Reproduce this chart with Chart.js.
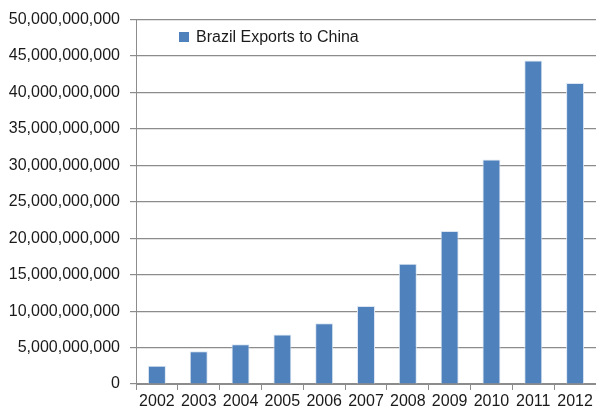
<!DOCTYPE html>
<html>
<head>
<meta charset="utf-8">
<script src="https://cdn.jsdelivr.net/npm/chart.js@4/dist/chart.umd.min.js"></script>
<style>
  html, body { margin: 0; padding: 0; background: #fff; }
  #wrap { width: 596px; height: 410px; }
</style>
</head>
<body>
<div id="wrap"><canvas id="chart" width="596" height="410"></canvas></div>
<script>
const YEARS = ["2002", "2003", "2004", "2005", "2006", "2007", "2008", "2009", "2010", "2011", "2012"];

const EXPORTS = [
  2.5e9, 4.5e9, 5.45e9, 6.8e9, 8.35e9, 10.7e9,
  16.5e9, 21.0e9, 30.8e9, 44.4e9, 41.3e9
];

const SERIES_LABEL = "Brazil Exports to China";

const FONT = "'Liberation Sans', Arial, sans-serif";

// legend drawn inside the plot, top-left
const insideLegend = {
  id: "insideLegend",
  afterDraw(c) {
    const ctx = c.ctx;
    const ds = c.data.datasets[0];
    ctx.save();
    ctx.fillStyle = ds.backgroundColor;
    ctx.fillRect(179, 32, 10, 10);
    ctx.fillStyle = "#1a1a1a";
    ctx.font = "16px " + FONT;
    ctx.textBaseline = "middle";
    ctx.fillText(ds.label, 196, 37.5);
    ctx.restore();
  }
};

new Chart(document.getElementById("chart"), {
  type: "bar",
  data: {
    labels: YEARS,
    datasets: [{
      label: SERIES_LABEL,
      data: EXPORTS,
      backgroundColor: "#4F81BD",
      borderColor: "#dce6f2",
      borderWidth: 1,
      barPercentage: 0.43,
      categoryPercentage: 1
    }]
  },
  options: {
    responsive: false,
    animation: false,
    layout: { padding: { top: 17, right: 0, left: 0, bottom: 0 } },
    plugins: {
      legend: { display: false },
      tooltip: { enabled: false }
    },
    scales: {
      x: {
        grid: {
          drawOnChartArea: false,
          drawTicks: true,
          tickLength: 6,
          color: "#8c8c8c"
        },
        border: { color: "#8c8c8c", width: 1 },
        ticks: {
          color: "#1a1a1a",
          font: { family: FONT, size: 16 },
          padding: 2,
          maxRotation: 0
        },
        afterFit(s) { s.height = 26; }
      },
      y: {
        min: 0,
        max: 50000000000,
        ticks: {
          stepSize: 5000000000,
          color: "#1a1a1a",
          font: { family: FONT, size: 16 },
          padding: 10,
          callback: v => v.toLocaleString("en-US")
        },
        grid: {
          color: "#8c8c8c",
          lineWidth: 1.2,
          tickLength: 6
        },
        border: { color: "#8c8c8c", width: 1 },
        afterFit(s) { s.width = 136; }
      }
    }
  },
  plugins: [insideLegend]
});
</script>
</body>
</html>
